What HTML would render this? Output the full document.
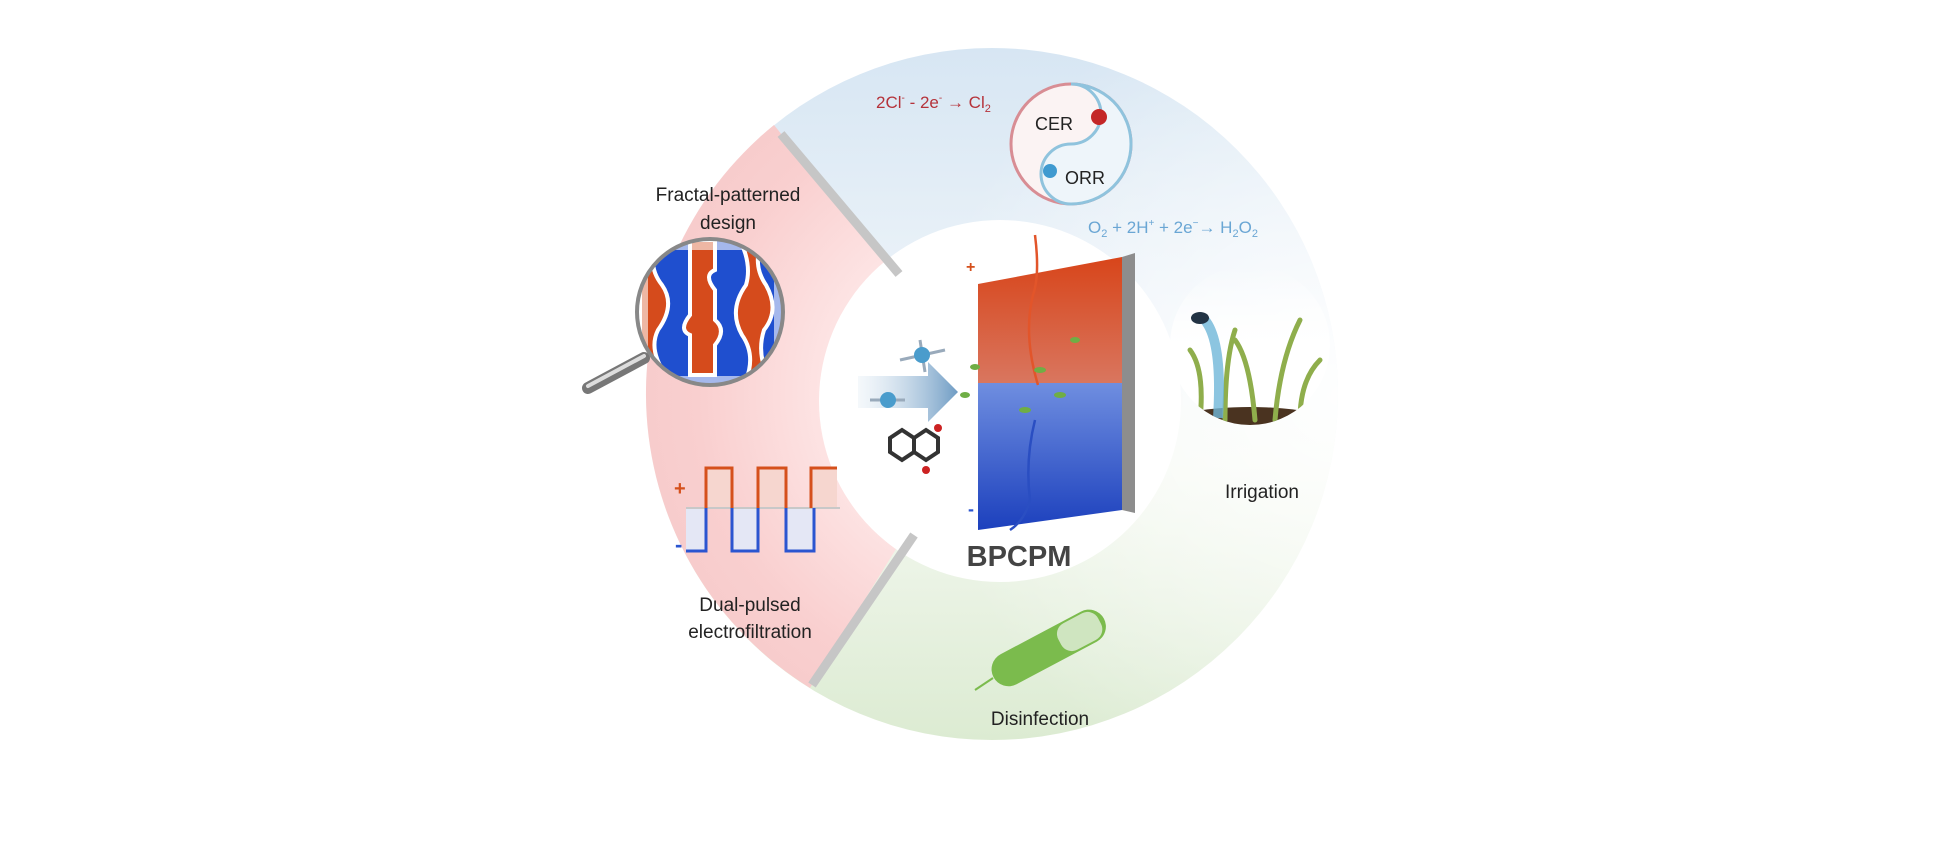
<!DOCTYPE html>
<html><head><meta charset="utf-8"><style>
html,body{margin:0;padding:0;background:#fff;}
svg{display:block;}
text{font-family:"Liberation Sans",Arial,sans-serif;}
</style></head><body>
<svg width="1959" height="842" viewBox="0 0 1959 842" xmlns="http://www.w3.org/2000/svg">
<defs>
<linearGradient id="bg" x1="0" y1="0" x2="0" y2="1">
<stop offset="0" stop-color="#d7e6f3"/><stop offset="0.45" stop-color="#f1f6fa"/>
<stop offset="0.6" stop-color="#f5f9f2"/><stop offset="1" stop-color="#dcebd2"/></linearGradient>
<radialGradient id="fade" cx="1" cy="0.5" r="0.6"><stop offset="0" stop-color="#fff" stop-opacity="0.9"/><stop offset="1" stop-color="#fff" stop-opacity="0"/></radialGradient>
<radialGradient id="pink" cx="992" cy="394" r="346" gradientUnits="userSpaceOnUse">
<stop offset="0.5" stop-color="#fde3e3"/><stop offset="0.85" stop-color="#f9cfcf"/><stop offset="1" stop-color="#f7cccc"/></radialGradient>
<linearGradient id="red" x1="0" y1="0" x2="0" y2="1"><stop offset="0" stop-color="#d8451a"/><stop offset="1" stop-color="#d9765f"/></linearGradient>
<linearGradient id="blu" x1="0" y1="0" x2="0" y2="1"><stop offset="0" stop-color="#6f8ee0"/><stop offset="1" stop-color="#1c40bd"/></linearGradient>
<linearGradient id="arr" x1="0" y1="0" x2="1" y2="0"><stop offset="0" stop-color="#dce8f2" stop-opacity="0.3"/><stop offset="1" stop-color="#6f9cc4"/></linearGradient>
<linearGradient id="plbg" x1="0" y1="0" x2="0" y2="1"><stop offset="0" stop-color="#fff" stop-opacity="0"/><stop offset="0.5" stop-color="#fff"/></linearGradient>
<clipPath id="mag"><circle cx="710" cy="312" r="72"/></clipPath>
<clipPath id="pl"><circle cx="1250" cy="345" r="80"/></clipPath>
</defs>
<circle cx="992" cy="394" r="346" fill="url(#bg)"/>
<circle cx="992" cy="394" r="346" fill="url(#fade)"/>
<path d="M992,394 L774,125 A346,346 0 0 0 810,688 Z" fill="url(#pink)"/>
<circle cx="1000" cy="401" r="181" fill="#fff"/>
<line x1="781" y1="134" x2="899" y2="274" stroke="#c6c6c6" stroke-width="9"/>
<line x1="914" y1="535" x2="812" y2="685" stroke="#c6c6c6" stroke-width="9"/>
<text x="876" y="108" font-size="17" fill="#b5323a">2Cl<tspan font-size="10" dy="-7">-</tspan><tspan dy="7"> - 2e</tspan><tspan font-size="10" dy="-7">-</tspan><tspan dy="7"> → Cl</tspan><tspan font-size="11" dy="4">2</tspan></text>
<circle cx="1071" cy="144" r="60" fill="#fbf3f3" stroke="#d88d94" stroke-width="3"/>
<path d="M1071,84 A60,60 0 0 1 1071,204 A30,30 0 0 1 1071,144 A30,30 0 0 0 1071,84" fill="#eef5fa" stroke="#8fc3dd" stroke-width="3"/>
<text x="1035" y="130" font-size="18" fill="#222">CER</text>
<circle cx="1099" cy="117" r="8" fill="#c42727"/>
<circle cx="1050" cy="171" r="7" fill="#3f9ad0"/>
<text x="1065" y="184" font-size="18" fill="#222">ORR</text>
<text x="1088" y="233" font-size="17" fill="#6aa6d4">O<tspan font-size="11" dy="4">2</tspan><tspan dy="-4"> + 2H</tspan><tspan font-size="10" dy="-7">+</tspan><tspan dy="7"> + 2e</tspan><tspan font-size="10" dy="-7">−</tspan><tspan dy="7">→ H</tspan><tspan font-size="11" dy="4">2</tspan><tspan dy="-4">O</tspan><tspan font-size="11" dy="4">2</tspan></text>
<text x="728" y="201" font-size="19" fill="#222" text-anchor="middle">Fractal-patterned</text>
<text x="728" y="229" font-size="19" fill="#222" text-anchor="middle">design</text>
<line x1="588" y1="388" x2="644" y2="358" stroke="#777" stroke-width="12" stroke-linecap="round"/>
<line x1="588" y1="386" x2="644" y2="356" stroke="#ddd" stroke-width="4" stroke-linecap="round"/>
<g clip-path="url(#mag)">
<rect x="636" y="238" width="150" height="150" fill="#1f4fcf"/>
<g fill="#d54b1c" stroke="#fff" stroke-width="4">
<path d="M640,240 h18 q-12,25 4,45 q14,20 -4,45 q-10,20 8,45 h-26z"/>
<path d="M690,240 h25 v30 q-12,5 0,20 v30 q12,10 0,25 v30 h-25 v-40 q-12,-5 0,-20 v-40z"/>
<path d="M740,240 h22 q-10,25 4,45 q14,25 -2,45 q-8,25 6,50 h-24 q10,-25 -4,-45 q-14,-25 4,-50 q6,-20 -6,-45z"/>
</g>
<rect x="636" y="238" width="150" height="150" fill="none" stroke="#fff" stroke-opacity="0.6" stroke-width="24"/>
</g>
<circle cx="710" cy="312" r="73" fill="none" stroke="#888" stroke-width="4"/>
<rect x="706" y="468" width="26" height="40" fill="#f6d6cf"/><rect x="758" y="468" width="28" height="40" fill="#f6d6cf"/><rect x="811" y="468" width="26" height="40" fill="#f6d6cf"/>
<rect x="686" y="508" width="20" height="43" fill="#e4e7f5"/><rect x="732" y="508" width="26" height="43" fill="#e4e7f5"/><rect x="786" y="508" width="28" height="43" fill="#e4e7f5"/>
<line x1="686" y1="508" x2="840" y2="508" stroke="#c8c8c8" stroke-width="2"/>
<polyline points="706,508 706,468 732,468 732,508" fill="none" stroke="#d5501c" stroke-width="3"/>
<polyline points="758,508 758,468 786,468 786,508" fill="none" stroke="#d5501c" stroke-width="3"/>
<polyline points="811,508 811,468 837,468" fill="none" stroke="#d5501c" stroke-width="3"/>
<polyline points="686,551 706,551 706,508" fill="none" stroke="#2b55d0" stroke-width="3"/>
<polyline points="732,508 732,551 758,551 758,508" fill="none" stroke="#2b55d0" stroke-width="3"/>
<polyline points="786,508 786,551 814,551 814,508" fill="none" stroke="#2b55d0" stroke-width="3"/>
<text x="674" y="495" font-size="20" fill="#d5501c" font-weight="bold">+</text>
<text x="675" y="552" font-size="22" fill="#2b55d0" font-weight="bold">-</text>
<text x="750" y="611" font-size="19" fill="#222" text-anchor="middle">Dual-pulsed</text>
<text x="750" y="638" font-size="19" fill="#222" text-anchor="middle">electrofiltration</text>
<path d="M858,376 h70 v-14 l30,30 l-30,30 v-14 h-70z" fill="url(#arr)"/>
<g stroke="#9ab" stroke-width="3"><line x1="900" y1="360" x2="945" y2="350"/><line x1="920" y1="340" x2="925" y2="372"/><line x1="870" y1="400" x2="905" y2="400"/></g>
<circle cx="922" cy="355" r="8" fill="#4a9ccc"/><circle cx="888" cy="400" r="8" fill="#4a9ccc"/>
<g stroke="#333" stroke-width="4" fill="none"><path d="M890,438 l12,-8 l12,8 v14 l-12,8 l-12,-8z M914,438 l12,-8 l12,8 v14 l-12,8 l-12,-8"/></g>
<circle cx="938" cy="428" r="4" fill="#c22"/><circle cx="926" cy="470" r="4" fill="#c22"/>
<polygon points="1122,257 1135,253 1135,513 1122,510" fill="#8d8d8d"/>
<polygon points="978,284 1122,257 1122,383 978,383" fill="url(#red)"/>
<polygon points="978,383 1122,383 1122,510 978,530" fill="url(#blu)"/>
<path d="M1035,235 q5,40 -2,60 q-10,40 5,90" stroke="#e2552a" stroke-width="2.5" fill="none"/>
<path d="M1035,420 q-10,40 -5,80 q-5,20 -20,30" stroke="#2a4ec2" stroke-width="2.5" fill="none"/>
<g fill="#6fae45"><ellipse cx="1040" cy="370" rx="6" ry="3"/><ellipse cx="1060" cy="395" rx="6" ry="3"/><ellipse cx="1025" cy="410" rx="6" ry="3"/><ellipse cx="1075" cy="340" rx="5" ry="3"/><ellipse cx="975" cy="367" rx="5" ry="3"/><ellipse cx="965" cy="395" rx="5" ry="3"/></g>
<text x="966" y="272" font-size="16" fill="#d5501c" font-weight="bold">+</text>
<text x="968" y="515" font-size="18" fill="#2b55d0" font-weight="bold">-</text>
<text x="1019" y="566" font-size="29" fill="#444" font-weight="bold" text-anchor="middle">BPCPM</text>
<g clip-path="url(#pl)">
<rect x="1170" y="265" width="170" height="160" fill="url(#plbg)"/>
<ellipse cx="1250" cy="425" rx="85" ry="18" fill="#4a3320"/>
<g stroke="#8fae4c" stroke-width="5" fill="none" stroke-linecap="round">
<path d="M1200,420 q5,-50 -10,-70"/><path d="M1225,420 q0,-60 10,-90"/><path d="M1255,420 q-5,-60 -20,-80"/><path d="M1275,420 q5,-60 25,-100"/><path d="M1300,420 q0,-40 20,-60"/><path d="M1185,420 q-5,-30 -15,-45"/></g>
<path d="M1203,318 q20,20 15,100" stroke="#6fb6d8" stroke-width="10" fill="none" opacity="0.8"/>
</g>
<ellipse cx="1200" cy="318" rx="9" ry="6" fill="#234"/>
<text x="1262" y="498" font-size="19" fill="#222" text-anchor="middle">Irrigation</text>
<g transform="rotate(-28 1050 645)">
<rect x="985" y="630" width="125" height="34" rx="17" fill="#7bbb4d"/>
<rect x="1060" y="632" width="45" height="30" rx="12" fill="#cfe5c0"/></g>
<line x1="993" y1="678" x2="975" y2="690" stroke="#7bbb4d" stroke-width="2"/>
<text x="1040" y="725" font-size="19" fill="#222" text-anchor="middle">Disinfection</text>
</svg>
</body></html>
